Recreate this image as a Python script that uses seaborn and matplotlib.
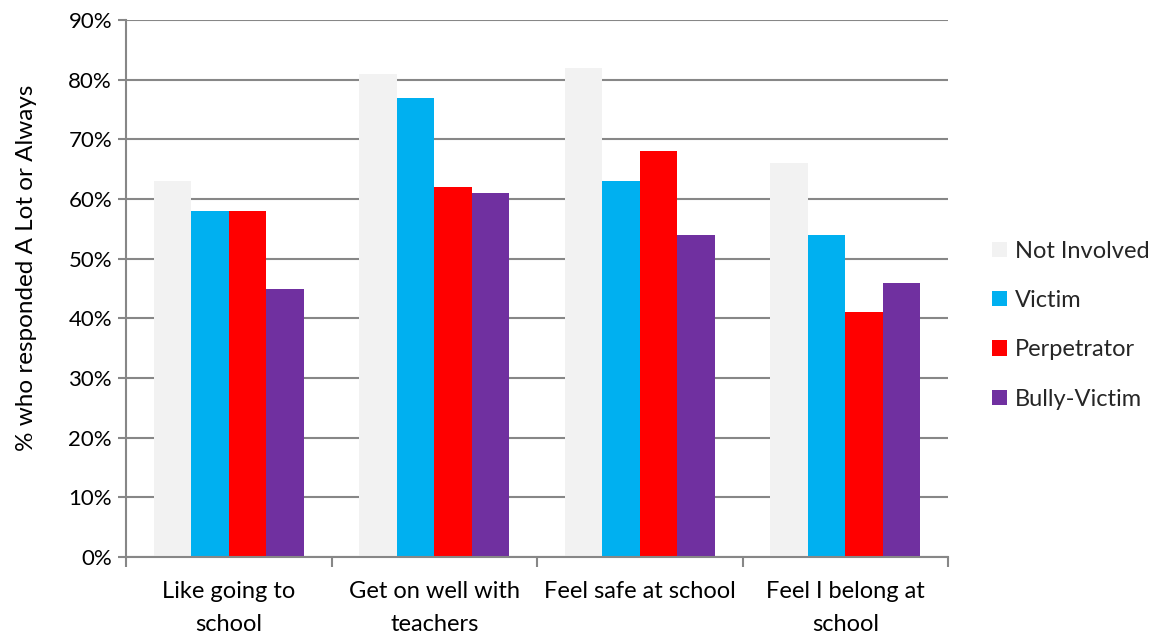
import matplotlib
matplotlib.use("Agg")
import matplotlib.pyplot as plt
import seaborn as sns
import pandas as pd
from matplotlib.ticker import MultipleLocator, FixedLocator, PercentFormatter
from matplotlib.patches import Patch

categories = ["Like going to\nschool", "Get on well with\nteachers", "Feel safe at school", "Feel I belong at\nschool"]
groups = ["Not Involved", "Victim", "Perpetrator", "Bully-Victim"]
not_involved = [63, 81, 82, 66]
victim = [58, 77, 63, 54]
perpetrator = [58, 62, 68, 41]
bully_victim = [45, 61, 54, 46]
colors = ["#F2F2F2", "#00B0F0", "#FF0000", "#7030A0"]

rows = []
for g, vals in zip(groups, [not_involved, victim, perpetrator, bully_victim]):
    for c, v in zip(categories, vals):
        rows.append({"category": c, "group": g, "value": v})
df = pd.DataFrame(rows)

sns.set_theme(style="white")
plt.rcParams["font.family"] = ["Lato", "DejaVu Sans"]

fig = plt.figure(figsize=(11.58, 6.36), dpi=100)
ax = fig.add_axes([126 / 1158, 1 - 557 / 636, (948 - 126) / 1158, (557 - 20) / 636])

sns.barplot(data=df, x="category", y="value", hue="group", hue_order=groups,
            palette=colors, width=0.73, gap=0, ax=ax, legend=False,
            saturation=1, edgecolor="none", linewidth=0)

grid_color = "#878787"
ax.set_ylim(0, 90)
ax.set_xlim(-0.5, 3.5)
ax.yaxis.set_major_locator(MultipleLocator(10))
ax.yaxis.set_major_formatter(PercentFormatter(decimals=0))
ax.grid(axis="y", color=grid_color, linewidth=1.5)
ax.set_axisbelow(True)

for side in ["top", "right"]:
    ax.spines[side].set_visible(False)
for side in ["left", "bottom"]:
    ax.spines[side].set_color(grid_color)
    ax.spines[side].set_linewidth(1.5)

fs = 17

# category boundaries carry the x ticks; labels sit at centres
ax.xaxis.set_major_locator(FixedLocator([-0.5, 0.5, 1.5, 2.5, 3.5]))
ax.xaxis.set_major_formatter(plt.NullFormatter())
ax.xaxis.set_minor_locator(FixedLocator([0, 1, 2, 3]))
ax.set_xticklabels(categories, minor=True, linespacing=1.75)
ax.tick_params(axis="x", which="major", direction="out", length=7, width=1.5,
               color=grid_color, bottom=True)
ax.tick_params(axis="x", which="minor", length=0, pad=17, labelsize=fs,
               labelcolor="black")
ax.tick_params(axis="y", direction="out", length=6, width=1.5, color=grid_color,
               left=True, labelsize=16, labelcolor="black", pad=4)

ax.set_xlabel("")
ax.set_ylabel("% who responded A Lot or Always", fontsize=17.5, color="black")
ax.yaxis.set_label_coords(-0.108, 0.538)

handles = [Patch(facecolor=c, edgecolor="none") for c in colors]
fig.legend(handles, groups, loc="center left", bbox_to_anchor=(992 / 1158, 1 - 325 / 636),
           frameon=False, fontsize=fs, handlelength=0.62, handleheight=0.62,
           handletextpad=0.35, labelspacing=1.2, borderpad=0, borderaxespad=0)

fig.savefig("out.png", dpi=100, facecolor="white")
